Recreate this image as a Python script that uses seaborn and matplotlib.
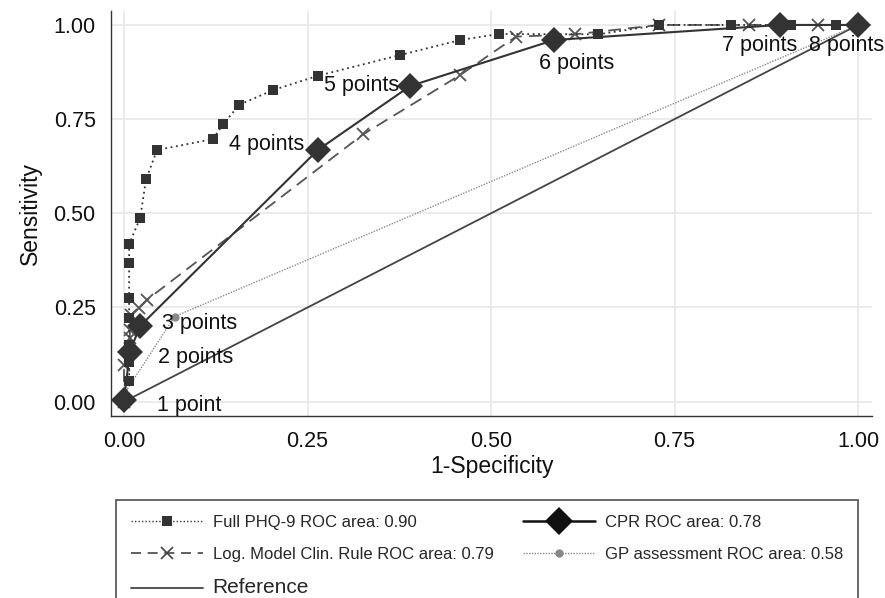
import numpy as np
import pandas as pd
import matplotlib
matplotlib.use("Agg")
import matplotlib.pyplot as plt
import seaborn as sns
from matplotlib.lines import Line2D

sns.set_theme(style="white")
plt.rcParams["font.family"] = ["Liberation Sans", "DejaVu Sans"]

# ---- data ----
phq_fpr = [0.0, 0.007, 0.007, 0.007, 0.007, 0.007, 0.007, 0.007, 0.007, 0.022, 0.030,
           0.045, 0.121, 0.135, 0.157, 0.203, 0.264, 0.376, 0.458, 0.511, 0.646,
           0.729, 0.827, 0.909, 0.970, 1.0]
phq_tpr = [0.0, 0.056, 0.105, 0.150, 0.222, 0.276, 0.367, 0.419, 0.419, 0.487, 0.590,
           0.668, 0.697, 0.736, 0.788, 0.827, 0.865, 0.920, 0.960, 0.976, 0.975,
           1.0, 1.0, 1.0, 1.0, 1.0]

log_fpr = [0.0, 0.0, 0.008, 0.008, 0.010, 0.020, 0.031, 0.326, 0.458, 0.534, 0.614,
           0.729, 0.851, 0.946, 1.0]
log_tpr = [0.0, 0.097, 0.170, 0.190, 0.230, 0.249, 0.270, 0.710, 0.867, 0.969, 0.975,
           1.0, 1.0, 1.0, 1.0]

gp_fpr = [0.0, 0.0, 0.069, 1.0]
gp_tpr = [0.0, 0.02, 0.226, 1.0]

cpr_fpr = [0.0, 0.008, 0.022, 0.264, 0.390, 0.586, 0.894, 1.0]
cpr_tpr = [0.005, 0.133, 0.201, 0.668, 0.838, 0.960, 1.0, 1.0]
cpr_labels = ["1 point", "2 points", "3 points", "4 points", "5 points",
              "6 points", "7 points", "8 points"]

ref_x = [0.0, 1.0]
ref_y = [0.0, 1.0]

legend_labels = ["Full PHQ-9 ROC area: 0.90",
                 "Log. Model Clin. Rule ROC area: 0.79",
                 "Reference",
                 "CPR ROC area: 0.78",
                 "GP assessment ROC area: 0.58"]

# ---- figure ----
fig = plt.figure(figsize=(8.85, 5.98), dpi=100)
ax = fig.add_axes([111 / 885, 1 - 416 / 598, (872 - 111) / 885, (416 - 11) / 598])

dark = "#333333"

sns.lineplot(x=ref_x, y=ref_y, ax=ax, color="#444444", linewidth=1.3,
             estimator=None, sort=False, legend=False)
sns.lineplot(x=gp_fpr, y=gp_tpr, ax=ax, color="#8a8a8a", linewidth=1.0,
             linestyle=(0, (1, 1)), marker="o", markersize=6, markeredgewidth=0,
             estimator=None, sort=False, legend=False)
sns.lineplot(x=log_fpr, y=log_tpr, ax=ax, color="#555555", linewidth=1.3,
             linestyle=(0, (7, 4)), marker="x", markersize=9, markeredgewidth=1.3,
             markeredgecolor="#555555",
             estimator=None, sort=False, legend=False)
sns.lineplot(x=phq_fpr, y=phq_tpr, ax=ax, color=dark, linewidth=1.3,
             linestyle=(0, (1, 2)), marker="s", markersize=7, markeredgewidth=0,
             estimator=None, sort=False, legend=False)
sns.lineplot(x=cpr_fpr, y=cpr_tpr, ax=ax, color=dark, linewidth=1.5,
             marker="D", markersize=13, markeredgewidth=0,
             estimator=None, sort=False, legend=False)

# point labels (offsets in points)
offsets = [(24, -4, "left"), (20, -4, "left"), (16, 2, "left"), (-10, 4, "right"),
           (-8, 0, "right"), (16, -17, "center"), (-15, -15, "center"), (-8, -15, "center")]
for (xv, yv, lab, (dx, dy, ha)) in zip(cpr_fpr, cpr_tpr, cpr_labels, offsets):
    ax.annotate(lab, (xv, yv), xytext=(dx, dy), textcoords="offset points",
                ha=ha, va="center", fontsize=15.5, color="#111111")

ax.set_xlim(-0.0177, 1.019)
ax.set_ylim(-0.038, 1.037)
ticks = [0.0, 0.25, 0.5, 0.75, 1.0]
ax.set_xticks(ticks)
ax.set_yticks(ticks)
ax.set_xticklabels([f"{t:.2f}" for t in ticks])
ax.set_yticklabels([f"{t:.2f}" for t in ticks])
ax.tick_params(axis="both", direction="out", length=6, width=1, color=dark,
               labelsize=15.5, labelcolor="#111111", pad=5)
ax.grid(True, color="#e8e8e8", linewidth=1.2)
ax.set_axisbelow(True)
for side in ["top", "right"]:
    ax.spines[side].set_visible(False)
for side in ["left", "bottom"]:
    ax.spines[side].set_color(dark)
    ax.spines[side].set_linewidth(1.0)

ax.set_xlabel("1-Specificity", fontsize=16.5, color="#111111", labelpad=2)
ax.set_ylabel("Sensitivity", fontsize=16.5, color="#111111", labelpad=8)

# legend
handles = [
    Line2D([], [], color=dark, linestyle=(0, (1, 1.5)), linewidth=1.0, marker="s",
           markersize=7, markeredgewidth=0),
    Line2D([], [], color="#444444", linestyle=(0, (6, 4)), linewidth=1.2, marker="x",
           markersize=9, markeredgewidth=1.2),
    Line2D([], [], color="#444444", linewidth=1.3),
    Line2D([], [], color="#111111", linewidth=1.8, marker="D", markersize=14,
           markeredgewidth=0),
    Line2D([], [], color="#888888", linestyle=(0, (1, 1)), linewidth=1.0, marker="o",
           markersize=6, markeredgewidth=0),
]
leg = fig.legend(handles, legend_labels, loc="upper left", ncol=2, mode="expand",
                 bbox_to_anchor=(116 / 885, 0, (858 - 116) / 885, 1 - 500 / 598),
                 prop={"family": ["Liberation Sans"], "size": 12},
                 handlelength=4.3, handletextpad=0.6, labelspacing=1.0,
                 borderpad=0.9, borderaxespad=0, frameon=True, fancybox=False)
leg.get_frame().set_edgecolor("#222222")
leg.get_frame().set_linewidth(1.2)
leg.get_texts()[2].set_fontsize(15)

fig.savefig("out.png", dpi=100)
